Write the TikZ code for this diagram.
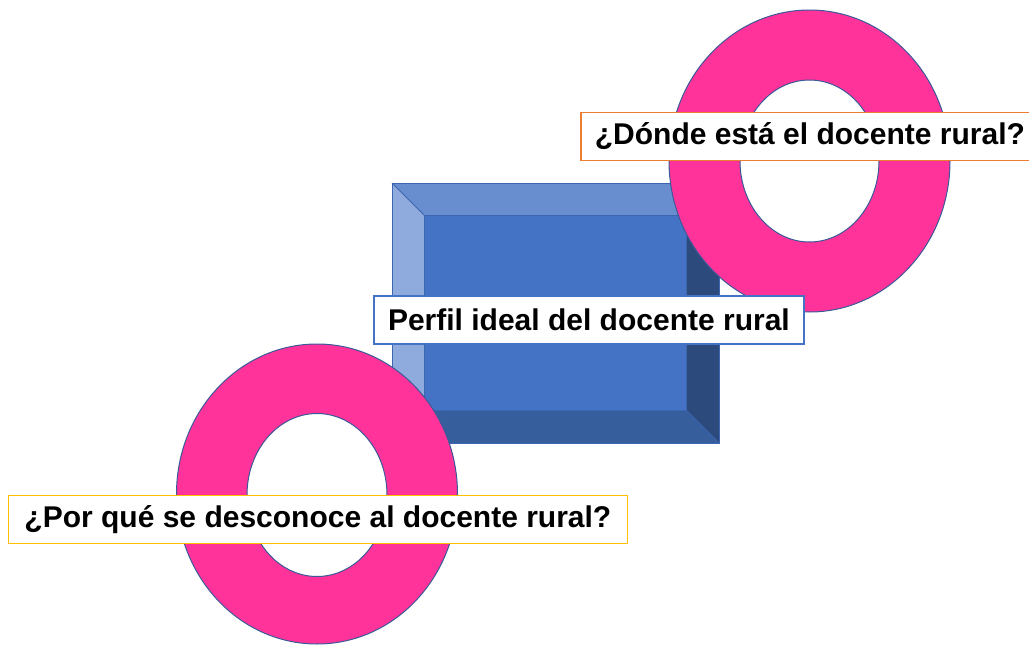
\documentclass[tikz,border=0pt]{standalone}
\usepackage{fontspec}
\setmainfont{Liberation Sans}
\begin{document}
\begin{tikzpicture}[x=1pt,y=-1pt,
  ringstyle/.style={fill=ringpink, draw=ringedge, line width=1pt, even odd rule},
  label/.style={rectangle, fill=white, line width=1.8pt, font=\fontsize{30}{33}\selectfont\bfseries, inner xsep=0pt, inner ysep=0pt, minimum height=48pt, anchor=west}]
\definecolor{ringpink}{HTML}{FF3399}
\definecolor{ringedge}{HTML}{3A5A99}
\definecolor{face}{HTML}{4472C4}
\definecolor{topbev}{HTML}{698ED0}
\definecolor{leftbev}{HTML}{8FAADC}
\definecolor{rightbev}{HTML}{2D4A7D}
\definecolor{botbev}{HTML}{365D9C}
\definecolor{edge}{HTML}{3C66B0}
\definecolor{orangeb}{HTML}{ED7D31}
\definecolor{goldb}{HTML}{FFC000}
\definecolor{blueb}{HTML}{4472C4}
\useasboundingbox (0,0) rectangle (1029,645);
% bevel box
\coordinate (o1) at (392,183); \coordinate (o2) at (719,183);
\coordinate (o3) at (719,443); \coordinate (o4) at (392,443);
\coordinate (i1) at (424,215); \coordinate (i2) at (686,215);
\coordinate (i3) at (686,410); \coordinate (i4) at (424,410);
\fill[topbev] (o1) -- (o2) -- (i2) -- (i1) -- cycle;
\fill[leftbev] (o1) -- (i1) -- (i4) -- (o4) -- cycle;
\fill[rightbev] (o2) -- (o3) -- (i3) -- (i2) -- cycle;
\fill[botbev] (o4) -- (i4) -- (i3) -- (o3) -- cycle;
\fill[face] (i1) rectangle (i3);
\draw[edge, line width=0.8pt] (o1) rectangle (o3);
\draw[edge, line width=0.8pt] (i1) rectangle (i3);
\draw[edge, line width=0.8pt] (o1) -- (i1) (o2) -- (i2) (o3) -- (i3) (o4) -- (i4);
% rings
\path[ringstyle] (809.5,161) ellipse [x radius=140.5, y radius=151] (809.5,161) ellipse [x radius=69.5, y radius=81];
\path[ringstyle] (317,494) ellipse [x radius=140.5, y radius=150] (317,495) ellipse [x radius=70, y radius=81.5];
% labels
\node[label, draw=blueb, minimum width=430pt] (perfil) at (373,320) {Perfil ideal del docente rural};
\node[label, draw=orangeb, minimum width=458pt] (donde) at (580,136.5) {¿Dónde está el docente rural?};
\node[label, draw=goldb, minimum width=619pt] (porque) at (7.5,519.5) {¿Por qué se desconoce al docente rural?};
\end{tikzpicture}
\end{document}
